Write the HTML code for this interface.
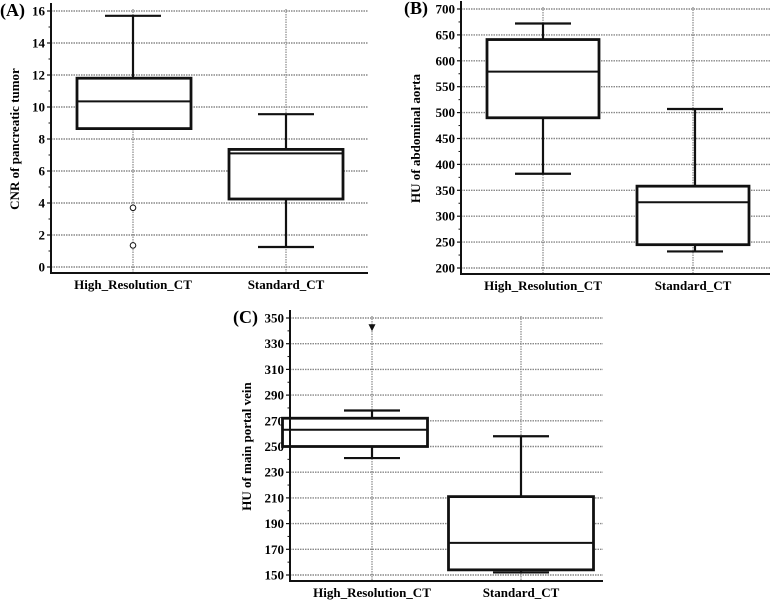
<!DOCTYPE html>
<html><head><meta charset="utf-8"><style>
body{margin:0;background:#fff;}
svg text{font-family:"Liberation Serif",serif;font-weight:700;fill:#000;}
</style></head><body>
<svg id="s" width="777" height="601" xmlns="http://www.w3.org/2000/svg"></svg>
<script>
const categories = ["High_Resolution_CT","Standard_CT"];
// [min, q1, median, q3, max]
const seriesA = [[8.65,8.65,10.35,11.8,15.7],[1.25,4.25,7.1,7.35,9.55]];
const outliersA = [[3.7,1.35],[]];
const ticksA = [0,2,4,6,8,10,12,14,16];
const seriesB = [[382,490,579,641,672],[232,245,327,358,507]];
const outliersB = [[],[]];
const ticksB = [200,250,300,350,400,450,500,550,600,650,700];
const seriesC = [[241,250,263,272,278],[152,154,175,211,258]];
const outliersC = [[342],[]];
const ticksC = [150,170,190,210,230,250,270,290,310,330,350];

const svg=document.getElementById('s');
const NS="http://www.w3.org/2000/svg";
function el(tag,attrs,parent,txt){const e=document.createElementNS(NS,tag);for(const k in attrs)e.setAttribute(k,attrs[k]);if(txt!==undefined)e.textContent=txt;(parent||svg).appendChild(e);return e;}

function panel(p){
  const g=el('g',{});
  
  
  const t0=p.ticks[0],t1=p.ticks[p.ticks.length-1];
  const y=v=>p.yBot+(v-t0)/(t1-t0)*(p.yTop-p.yBot);
  p.ticks.forEach(t=>{
    const l=el('line',{x1:p.x0,x2:p.x1,y1:y(t),y2:y(t),stroke:'#888','stroke-width':1.4,'stroke-dasharray':'1.5,1'},g);
    
    
    const tk=el('line',{x1:p.x0-4,x2:p.x0,y1:y(t),y2:y(t),stroke:'#111','stroke-width':1.2},g);
    
    
    const tl=el('text',{x:p.x0-6,y:y(t)+4.5,'text-anchor':'end','font-size':13,'font-weight':'bold'},g,String(t));
    
    
  });
  for(let i=0;i<p.ticks.length-1;i++){
    const m=(p.ticks[i]+p.ticks[i+1])/2;
    const mt=el('line',{x1:p.x0-2.5,x2:p.x0,y1:y(m),y2:y(m),stroke:'#111','stroke-width':1},g);
    
    
  }
  categories.forEach((c,i)=>{
    const cx=p.cx[i];
    const vl=el('line',{x1:cx,x2:cx,y1:p.yTop-2,y2:p.axisY,stroke:'#888','stroke-width':1.2,'stroke-dasharray':'1.5,1'},g);
    
    
    const lb=el('text',{x:cx,y:p.axisY+16,'text-anchor':'middle','font-size':13,'font-weight':'bold'},g,c);
    
    
    const d=p.data[i], bx=p.bx[i], hw=p.bw/2, cap=p.cap[i];
    const wh=el('line',{x1:cap,x2:cap,y1:y(d[4]),y2:y(d[3]),stroke:'#111','stroke-width':2.2},g);
    
    
    const wl=el('line',{x1:cap,x2:cap,y1:y(d[1]),y2:y(d[0]),stroke:'#111','stroke-width':2.2},g);
    
    
    const ct=el('line',{x1:cap-28,x2:cap+28,y1:y(d[4]),y2:y(d[4]),stroke:'#111','stroke-width':2.2},g);
    
    
    if(d[0]<d[1]){
      const cb=el('line',{x1:cap-28,x2:cap+28,y1:y(d[0]),y2:y(d[0]),stroke:'#111','stroke-width':2.2},g);
      
      
    }
    const r=el('rect',{x:bx-hw,y:y(d[3]),width:p.bw,height:y(d[1])-y(d[3]),fill:'#fff',stroke:'#111','stroke-width':2.8},g);
    
    
    const md=el('line',{x1:bx-hw,x2:bx+hw,y1:y(d[2]),y2:y(d[2]),stroke:'#111','stroke-width':2},g);
    
    
    p.out[i].forEach(o=>{
      let m;
      if(p.tri){m=el('path',{d:`M${cx-3.5} ${y(o)-4}L${cx+3.5} ${y(o)-4}L${cx} ${y(o)+3}Z`,fill:'#111'},g);}
      else m=el('circle',{cx:cx,cy:y(o),r:2.8,fill:'#fff',stroke:'#111','stroke-width':1},g);
      
      
    });
  });
  const ax=el('line',{x1:p.x0,x2:p.x0,y1:p.yTop-8,y2:p.axisY,stroke:'#111','stroke-width':2},g);
  
  
  const bx=el('line',{x1:p.x0-1,x2:p.x1,y1:p.axisY,y2:p.axisY,stroke:'#111','stroke-width':2},g);
  
  
  const yl=el('text',{transform:`translate(${p.ylx},${(p.yTop+p.yBot)/2}) rotate(-90)`,'text-anchor':'middle','font-size':13,'font-weight':'bold'},g,p.ylabel);
  
  
  const pl=el('text',{x:p.plx,y:p.yTop+5,'font-size':18,'font-weight':'bold'},g,'('+p.id+')');
  
  
}
panel({id:'A',x0:51,x1:368,yTop:11,yBot:267,axisY:273,cx:[133,286],bx:[134,286],cap:[133,286],bw:114,data:seriesA,out:outliersA,ticks:ticksA,ylabel:'CNR of pancreatic tumor',ylx:19,plx:0});
panel({id:'B',x0:461,x1:770,yTop:9,yBot:268,axisY:274,cx:[543,693],bx:[543,693],cap:[543,695],bw:112,data:seriesB,out:outliersB,ticks:ticksB,ylabel:'HU of abdominal aorta',ylx:420,plx:404});
panel({id:'C',x0:290,x1:603,yTop:318,yBot:575,axisY:581,cx:[372,521],bx:[355,521],cap:[372,521],bw:145,data:seriesC,out:outliersC,ticks:ticksC,ylabel:'HU of main portal vein',ylx:251,plx:233,tri:true});
</script>
</body></html>
